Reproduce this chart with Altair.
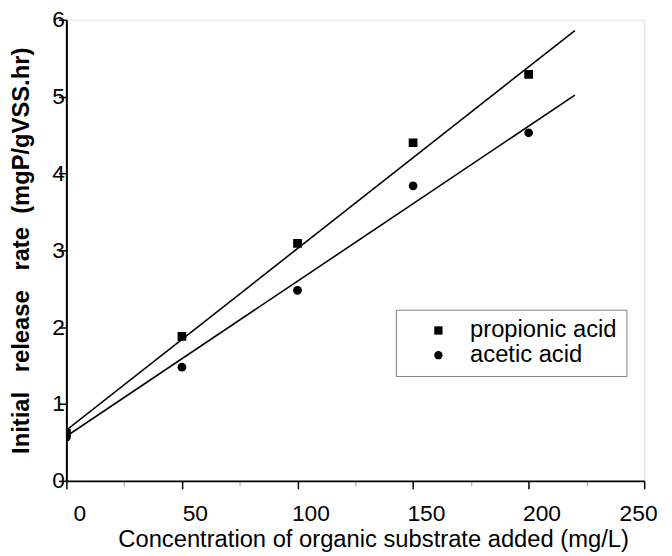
import altair as alt
import pandas as pd

# ---- data ----
conc = [0, 50, 100, 150, 200]
propionic = [0.62, 1.88, 3.09, 4.40, 5.29]
acetic = [0.57, 1.48, 2.48, 3.84, 4.53]

fit_x = [0, 220]
propionic_fit = [0.66, 5.86]
acetic_fit = [0.58, 5.02]

series_names = ["propionic acid", "acetic acid"]

x_ticks = [0, 25, 50, 75, 100, 125, 150, 175, 200, 225, 250]
y_ticks = [0, 0.5, 1, 1.5, 2, 2.5, 3, 3.5, 4, 4.5, 5, 5.5, 6]

pts = pd.DataFrame({
    "conc": conc + conc,
    "rate": propionic + acetic,
    "series": [series_names[0]] * len(conc) + [series_names[1]] * len(conc),
})
fits = pd.DataFrame({
    "conc": fit_x + fit_x,
    "rate": propionic_fit + acetic_fit,
    "series": [series_names[0]] * 2 + [series_names[1]] * 2,
})

FONT = "Liberation Sans"

x_scale = alt.Scale(domain=[0, 250], nice=False, zero=False)
y_scale = alt.Scale(domain=[0, 6], nice=False, zero=False)

x_axis = alt.Axis(
    values=x_ticks,
    labelExpr="datum.value % 50 == 0 ? format(datum.value, 'd') : ''",
    labelFont=FONT, labelFontSize=23, labelColor="black",
    labelOffset=13, labelFlush=False, labelOverlap=False,
    labelAlign={"condition": {"test": "datum.value == 250", "value": "right"}, "value": "center"},
    labelPadding=14,
    tickSize={"condition": {"test": "datum.value % 50 != 0", "value": 5}, "value": 8},
    tickColor={"condition": {"test": "datum.value % 50 != 0", "value": "#bbbbbb"}, "value": "black"},
    tickWidth=1.5,
    title="Concentration of organic substrate added (mg/L)",
    titleFont=FONT, titleFontSize=24, titleFontWeight="normal", titleColor="black",
    titleX=310, titleY=66, titleAlign="center", titleBaseline="alphabetic",
    domainColor="black", domainWidth=2, grid=False,
)

y_axis = alt.Axis(
    values=y_ticks,
    labelExpr="datum.value % 1 == 0 ? format(datum.value, 'd') : ''",
    labelFont=FONT, labelFontSize=23, labelColor="black",
    labelOverlap=False, labelFlush=False,
    labelPadding=-6,
    tickSize={"condition": {"test": "datum.value % 1 != 0", "value": 4}, "value": 8},
    tickColor={"condition": {"test": "datum.value % 1 != 0", "value": "#bbbbbb"}, "value": "black"},
    tickWidth=1.5,
    title="Initial\u00a0\u00a0 release\u00a0\u00a0 rate\u00a0 (mgP/gVSS.hr)",
    titleFont=FONT, titleFontSize=24, titleFontWeight="bold", titleColor="black",
    titleAngle=-90, titleX=-38, titleY=233, titleAlign="center", titleBaseline="alphabetic",
    domainColor="black", domainWidth=2, grid=False,
)

lines = alt.Chart(fits).mark_line(color="black", strokeWidth=1.6, clip=True).encode(
    x=alt.X("conc:Q", scale=x_scale, axis=x_axis),
    y=alt.Y("rate:Q", scale=y_scale, axis=y_axis),
    detail="series:N",
)

points = alt.Chart(pts).mark_point(filled=True, color="black", opacity=1, size=78, clip=True).encode(
    x=alt.X("conc:Q", scale=x_scale),
    y=alt.Y("rate:Q", scale=y_scale),
    shape=alt.Shape(
        "series:N",
        scale=alt.Scale(domain=series_names, range=["square", "circle"]),
        legend=alt.Legend(
            orient="none", legendX=333, legendY=293, title=None,
            labelFont=FONT, labelFontSize=24, labelColor="black",
            symbolSize=70, symbolFillColor="black", symbolStrokeColor="black",
            symbolStrokeWidth=0, symbolOpacity=1,
            strokeColor="#808080", fillColor="white",
            padding=9, symbolOffset=22, labelOffset=20, rowPadding=1,
        ),
    ),
)

chart = (
    alt.layer(lines, points)
    .properties(
        width=584, height=466,
        autosize=alt.AutoSizeParams(type="none"),
        padding={"left": 59, "top": 9, "right": 20, "bottom": 73},
    )
    .configure_view(stroke="black", strokeWidth=2)
    .configure(background="white")
)

chart.save("out.html", embed_options={"renderer": "svg", "actions": False})
